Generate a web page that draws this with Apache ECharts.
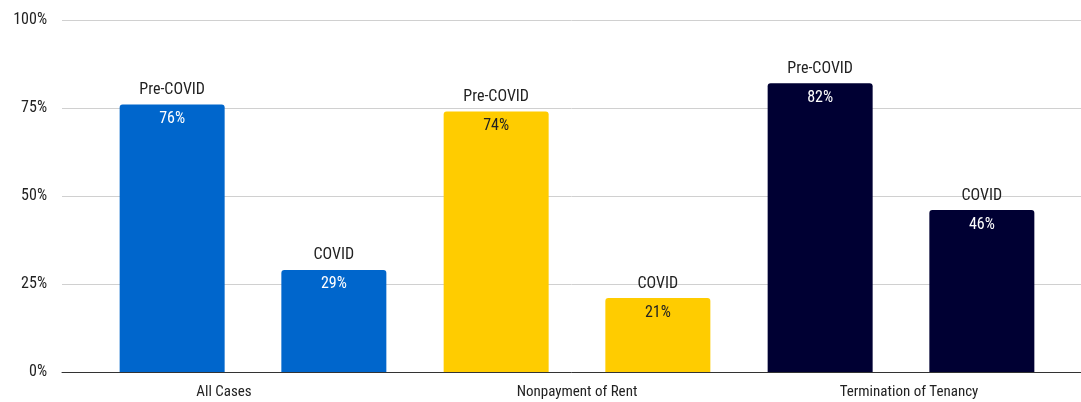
<!DOCTYPE html>
<html>
<head>
<meta charset="utf-8">
<script src="https://cdn.jsdelivr.net/npm/echarts@6/dist/echarts.min.js"></script>
<style>
  html, body { margin: 0; padding: 0; background: #fff; }
  #chart { width: 1081px; height: 402px; }
</style>
</head>
<body>
<div id="chart"></div>
<script>
const categories = ['All Cases', 'Nonpayment of Rent', 'Termination of Tenancy'];
const preCovid = [76, 74, 82];
const covid = [29, 21, 46];
const barColors = ['#0066cc', '#ffcc00', '#000033'];
const valueColors = ['#ffffff', '#222222', '#ffffff'];
const yTicks = [0, 25, 50, 75, 100];
// the source centres its category labels a little off the bar groups
const labelPads = [[0, 58, 0, 0], [0, 0, 0, 0], [0, 0, 0, 16]];

const font = '"Liberation Sans Narrow", "Roboto Condensed", "Roboto", sans-serif';

const makeData = values => values.map((v, i) => ({
    value: v,
    itemStyle: { color: barColors[i] },
    label: {
        rich: {
            n: { color: '#222', fontSize: 16, fontFamily: font, lineHeight: 29 },
            v: { color: valueColors[i], fontSize: 16, fontFamily: font, lineHeight: 29 }
        }
    }
}));

const makeSeries = (name, values) => ({
    name: name,
    type: 'bar',
    xAxisIndex: 1,
    yAxisIndex: 1,
    barWidth: 105,
    barGap: '54%',
    itemStyle: { borderRadius: [3, 3, 0, 0] },
    label: {
        show: true,
        position: 'insideTop',
        distance: 0,
        offset: [0, -29],
        formatter: p => '{n|' + p.seriesName + '}\n{v|' + p.value + '%}'
    },
    data: makeData(values)
});

const chart = echarts.init(document.getElementById('chart'));
chart.setOption({
    animation: false,
    grid: [
        { left: 62, right: 0, top: 20, bottom: 30 },
        { left: 91, right: 18, top: 20, bottom: 30 }
    ],
    xAxis: [
        {
            gridIndex: 0,
            type: 'value',
            min: 0,
            max: 1,
            axisLabel: { show: false },
            axisTick: { show: false },
            splitLine: { show: false },
            axisLine: { show: true, onZero: false, lineStyle: { color: '#333', width: 1 } }
        },
        {
            gridIndex: 1,
            type: 'category',
            data: categories.map((c, i) => ({ value: c, textStyle: { padding: labelPads[i] } })),
            axisLine: { show: false },
            axisTick: { show: false },
            axisLabel: { color: '#222', fontSize: 15, fontFamily: font, margin: 13 }
        }
    ],
    yAxis: [
        {
            gridIndex: 0,
            type: 'value',
            min: yTicks[0],
            max: yTicks[yTicks.length - 1],
            interval: 25,
            axisLine: { show: false },
            axisTick: { show: false },
            axisLabel: {
                color: '#222',
                fontSize: 16,
                fontFamily: font,
                margin: 15,
                formatter: v => v + '%'
            },
            splitLine: { lineStyle: { color: '#d0d0d0', width: 1 } }
        },
        {
            gridIndex: 1,
            type: 'value',
            min: 0,
            max: 100,
            show: false
        }
    ],
    series: [
        makeSeries('Pre-COVID', preCovid),
        makeSeries('COVID', covid)
    ]
});
</script>
</body>
</html>
